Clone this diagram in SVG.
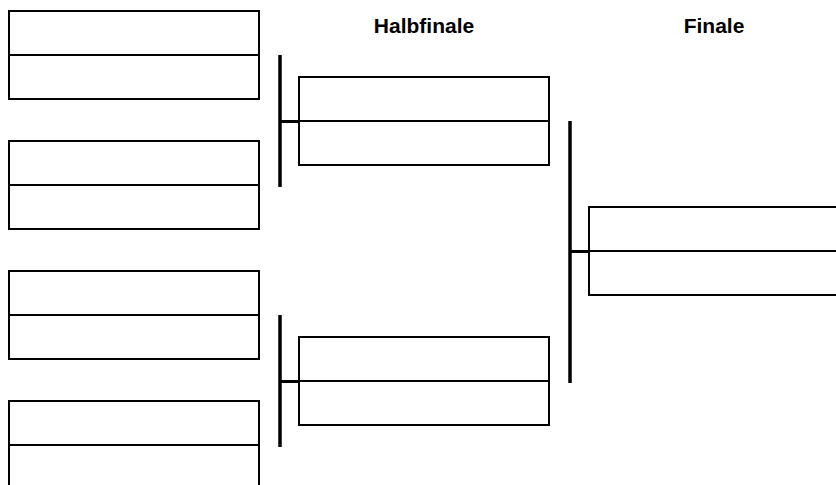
<svg xmlns="http://www.w3.org/2000/svg" width="836" height="485" viewBox="0 0 836 485">
<style>
.box{fill:#fff;stroke:#000;stroke-width:2}
.mid{stroke:#000;stroke-width:2}
.bar{stroke:#000;stroke-width:3.5;fill:none}
.stub{stroke:#000;stroke-width:3;fill:none}
.title{font-family:"Liberation Sans",Arial,sans-serif;font-weight:bold;font-size:21px;text-anchor:middle;fill:#000}
</style>
<rect width="836" height="485" fill="#fff"/>
<text class="title" x="424" y="33">Halbfinale</text>
<text class="title" x="714" y="33">Finale</text>
<g id="connectors">
<line class="bar" x1="280" y1="55" x2="280" y2="187"/>
<line class="stub" x1="280" y1="121.5" x2="299" y2="121.5"/>
<line class="bar" x1="280" y1="315" x2="280" y2="447"/>
<line class="stub" x1="280" y1="381.5" x2="299" y2="381.5"/>
<line class="bar" x1="570" y1="121" x2="570" y2="383"/>
<line class="stub" x1="570" y1="251.5" x2="589" y2="251.5"/>
</g>
<g id="r1m1"><rect class="box" x="9" y="11" width="250" height="88"/><line class="mid" x1="9" y1="55" x2="259" y2="55"/></g>
<g id="r1m2"><rect class="box" x="9" y="141" width="250" height="88"/><line class="mid" x1="9" y1="185" x2="259" y2="185"/></g>
<g id="r1m3"><rect class="box" x="9" y="271" width="250" height="88"/><line class="mid" x1="9" y1="315" x2="259" y2="315"/></g>
<g id="r1m4"><rect class="box" x="9" y="401" width="250" height="88"/><line class="mid" x1="9" y1="445" x2="259" y2="445"/></g>
<g id="sf1"><rect class="box" x="299" y="77" width="250" height="88"/><line class="mid" x1="299" y1="121" x2="549" y2="121"/></g>
<g id="sf2"><rect class="box" x="299" y="337" width="250" height="88"/><line class="mid" x1="299" y1="381" x2="549" y2="381"/></g>
<g id="final"><rect class="box" x="589" y="207" width="250" height="88"/><line class="mid" x1="589" y1="251" x2="839" y2="251"/></g>
</svg>
